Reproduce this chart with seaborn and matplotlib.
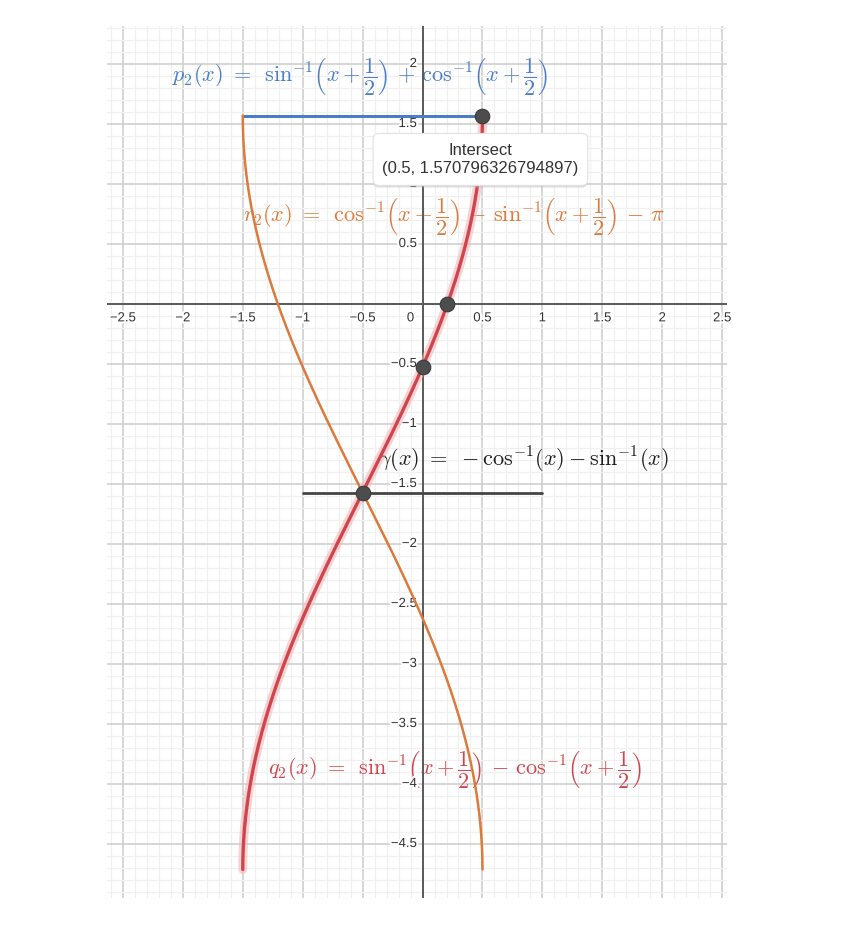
import numpy as np
import pandas as pd
import matplotlib
matplotlib.use("Agg")
import matplotlib.pyplot as plt
import matplotlib.patheffects as pe
from matplotlib.ticker import MultipleLocator
import seaborn as sns

# data
domain_shifted = [-1.5, 0.5]     # p2, q2, r2 live on x+1/2 in [-1, 1]
domain_plain = [-1.0, 1.0]       # gamma lives on x in [-1, 1]
point_x = [0.5, 0.207, 0.0, -0.5]
point_y = [1.5708, 0.0, -0.5236, -1.5708]
x_ticks = [-2.5, -2, -1.5, -1, -0.5, 0.5, 1, 1.5, 2, 2.5]
y_ticks = [2, 1.5, 1, 0.5, -0.5, -1, -1.5, -2, -2.5, -3, -3.5, -4, -4.5, -5]
tooltip_lines = ["Intersect", "(0.5, 1.570796326794897)"]

# colours
blue = "#4a7cc9"
orange = "#dc7a3c"
red = "#d0454c"
dark = "#454545"

sns.set_style("white")
plt.rcParams["font.family"] = ["Liberation Sans", "DejaVu Sans"]
plt.rcParams["mathtext.fontset"] = "cm"

# sample densely near the ends where arcsin/arccos get steep
theta = np.linspace(-np.pi / 2, np.pi / 2, 600)
u = np.sin(theta)
x_sh = u + (domain_shifted[0] + domain_shifted[1]) / 2
curves = pd.DataFrame({
    "x": x_sh,
    "p2": np.arcsin(u) + np.arccos(u),
    "q2": np.arcsin(u) - np.arccos(u),
    "r2": np.arccos(u) - np.arcsin(u) - np.pi,
})
g = pd.DataFrame({"x": domain_plain,
                  "y": [-np.arccos(v) - np.arcsin(v) for v in domain_plain]})

fig = plt.figure(figsize=(8.41, 9.32), dpi=100)
ax = fig.add_axes([0.1272, 0.0365, 0.7372, 0.9356])
ax.set_xlim(-2.633, 2.54)
ax.set_ylim(-4.95, 2.317)

# grid like GeoGebra
ax.xaxis.set_major_locator(MultipleLocator(0.5))
ax.yaxis.set_major_locator(MultipleLocator(0.5))
ax.xaxis.set_minor_locator(MultipleLocator(0.1))
ax.yaxis.set_minor_locator(MultipleLocator(0.1))
ax.grid(which="minor", color="#f0f0f0", lw=0.9, zorder=0)
ax.grid(which="major", color="#cfcfcf", lw=1.2, zorder=0)
ax.tick_params(which="both", length=0, labelbottom=False, labelleft=False)
ax.set_axisbelow(True)
for s in ax.spines.values():
    s.set_visible(False)

ax.axhline(0, color="#5a5a5a", lw=1.4, zorder=3)
ax.axvline(0, color="#5a5a5a", lw=1.4, zorder=3)

halo = [pe.withStroke(linewidth=3, foreground="white")]
for v in x_ticks:
    lbl = f"{v:g}".replace("-", "\u2212")
    ax.annotate(lbl, (v, 0), xytext=(0, -6), textcoords="offset points",
                ha="center", va="top", fontsize=9.5, color="#333333",
                path_effects=halo, zorder=4)
for v in y_ticks:
    lbl = f"{v:g}".replace("-", "\u2212")
    ax.annotate(lbl, (0, v), xytext=(-4, 0), textcoords="offset points",
                ha="right", va="center", fontsize=9.5, color="#333333",
                path_effects=halo, zorder=4)
ax.annotate("0", (0, 0), xytext=(-6, -6), textcoords="offset points",
            ha="right", va="top", fontsize=9.5, color="#333333",
            path_effects=halo, zorder=4)

# function labels
fs = 16
half = r"\left(x+\dfrac{1}{2}\right)"
eq = r"\ =\ \,"
ax.text(-2.092, 1.9,
        r"$p_2(x)" + eq + r"\mathrm{sin}^{-1}" + half + r"\,+\,\mathrm{cos}^{-1}" + half + "$",
        color=blue, fontsize=fs, va="center", ha="left", zorder=2)
ax.text(-1.5, 0.733,
        r"$r_2(x)" + eq + r"\mathrm{cos}^{-1}" + half + r"\,-\,\mathrm{sin}^{-1}" + half + r"\,-\,\pi$",
        color=orange, fontsize=fs, va="center", ha="left", zorder=2)
ax.text(-1.29, -3.883,
        r"$q_2(x)" + eq + r"\mathrm{sin}^{-1}" + half + r"\,-\,\mathrm{cos}^{-1}" + half + "$",
        color=red, fontsize=fs, va="center", ha="left", zorder=2)
ax.text(-0.375, -1.30,
        r"$\gamma(x)\ =\ -\mathrm{cos}^{-1}(x)-\mathrm{sin}^{-1}(x)$",
        color="#1e1e1e", fontsize=fs, va="center", ha="left", zorder=2)

# curves
sns.lineplot(data=curves, x="x", y="p2", ax=ax, color=blue, lw=2.2,
             sort=False, estimator=None, zorder=5)
sns.lineplot(data=g, x="x", y="y", ax=ax, color=dark, lw=2.0,
             sort=False, estimator=None, zorder=5)
sns.lineplot(data=curves, x="x", y="r2", ax=ax, color=orange, lw=1.8,
             sort=False, estimator=None, zorder=6)
sns.lineplot(data=curves, x="x", y="q2", ax=ax, color="#f0b8bc", lw=6.5,
             alpha=0.6, sort=False, estimator=None, zorder=6)
sns.lineplot(data=curves, x="x", y="q2", ax=ax, color=red, lw=2.4,
             sort=False, estimator=None, zorder=7)

sns.scatterplot(x=point_x, y=point_y, ax=ax, s=110, color="#4d4d4d",
                edgecolor="#3a3a3a", linewidth=0.8, zorder=9)

# tooltip
t = ax.text(0.483, 1.205, "\n".join(tooltip_lines), ha="center", va="center",
            fontsize=12, color="#333333", linespacing=1.3, zorder=10,
            bbox=dict(boxstyle="round,pad=0.55,rounding_size=0.35",
                      fc="white", ec="#e2e2e2", lw=0.8))
t.get_bbox_patch().set_path_effects(
    [pe.SimplePatchShadow(offset=(0, -1.5), shadow_rgbFace="#bbbbbb", alpha=0.5),
     pe.Normal()])

ax.set_xlabel("")
ax.set_ylabel("")
fig.savefig("out.png", dpi=100, facecolor="white")
